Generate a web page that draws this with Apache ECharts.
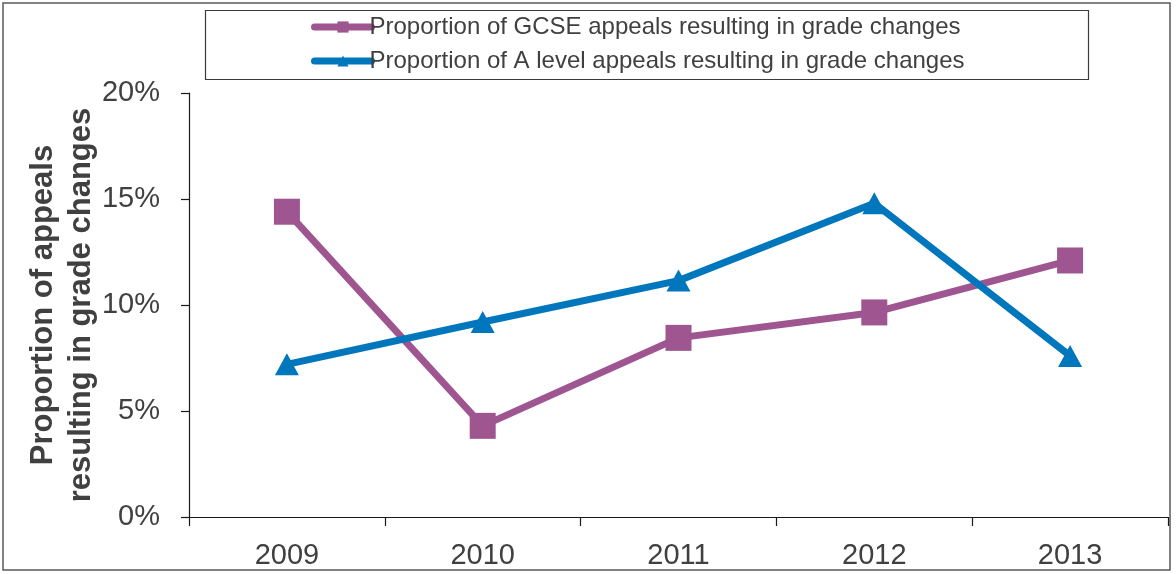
<!DOCTYPE html>
<html>
<head>
<meta charset="utf-8">
<script src="https://cdn.jsdelivr.net/npm/echarts@6/dist/echarts.min.js"></script>
<style>
html,body{margin:0;padding:0;background:#fff;}
#chart{width:1176px;height:574px;}
</style>
</head>
<body>
<div id="chart"></div>
<script>
const categories = ['2009', '2010', '2011', '2012', '2013'];
const gcseValues = [14.4, 4.3, 8.45, 9.65, 12.1];
const aLevelValues = [7.2, 9.2, 11.15, 14.8, 7.6];
const seriesNames = ['Proportion of GCSE appeals resulting in grade changes', 'Proportion of A level appeals resulting in grade changes'];
const yTicks = [0, 5, 10, 15, 20];

const chart = echarts.init(document.getElementById('chart'));
const font = 'Liberation Sans, Arial, sans-serif';
chart.setOption({
  animation: false,
  backgroundColor: '#fff',
  graphic: [
    { type: 'rect', shape: { x: 3, y: 3, width: 1167, height: 567 }, style: { fill: 'none', stroke: '#5a5a5a', lineWidth: 1.5 }, z: 0 },
    { type: 'rect', shape: { x: 205.5, y: 10.5, width: 883, height: 69 }, style: { fill: 'none', stroke: '#3a3a3a', lineWidth: 1.2 }, z: 0 }
  ],
  legend: {
    orient: 'vertical',
    left: 311,
    top: 15,
    itemWidth: 57,
    itemHeight: 14,
    itemGap: 10,
    padding: 0,
    lineStyle: { width: 7, cap: 'round' },
    textStyle: { fontFamily: font, fontSize: 24, color: '#404040', lineHeight: 24, padding: [0, 0, 0, -7] },
    data: seriesNames
  },
  grid: { left: 189, right: 8, top: 93, bottom: 57, containLabel: false },
  xAxis: {
    type: 'category',
    data: categories,
    boundaryGap: true,
    axisLine: { lineStyle: { color: '#1a1a1a', width: 1.2 } },
    axisTick: { show: true, length: 9, alignWithLabel: false, lineStyle: { color: '#1a1a1a', width: 1.2 } },
    axisLabel: { fontFamily: font, fontSize: 29, color: '#404040', margin: 24 },
    splitLine: { show: false }
  },
  yAxis: {
    type: 'value',
    min: yTicks[0],
    max: yTicks[yTicks.length - 1],
    interval: 5,
    name: 'Proportion of appeals\nresulting in grade changes',
    nameLocation: 'middle',
    nameGap: 89,
    nameMoveOverlap: false,
    nameTextStyle: { fontFamily: font, fontSize: 31, fontWeight: 'bold', color: '#404040', lineHeight: 38 },
    axisLine: { show: true, lineStyle: { color: '#1a1a1a', width: 1.2 } },
    axisTick: { show: true, length: 8, lineStyle: { color: '#1a1a1a', width: 1.2 } },
    axisLabel: { fontFamily: font, fontSize: 29, color: '#404040', margin: 29, formatter: v => v + '%' },
    splitLine: { show: false }
  },
  series: [
    {
      name: seriesNames[0],
      type: 'line',
      data: gcseValues,
      symbol: 'rect',
      symbolSize: 26,
      lineStyle: { color: '#9e5590', width: 7 },
      itemStyle: { color: '#9e5590' }
    },
    {
      name: seriesNames[1],
      type: 'line',
      data: aLevelValues,
      symbol: 'triangle',
      symbolSize: [24, 22],
      lineStyle: { color: '#0077bd', width: 7 },
      itemStyle: { color: '#0077bd' }
    }
  ]
});
</script>
</body>
</html>
